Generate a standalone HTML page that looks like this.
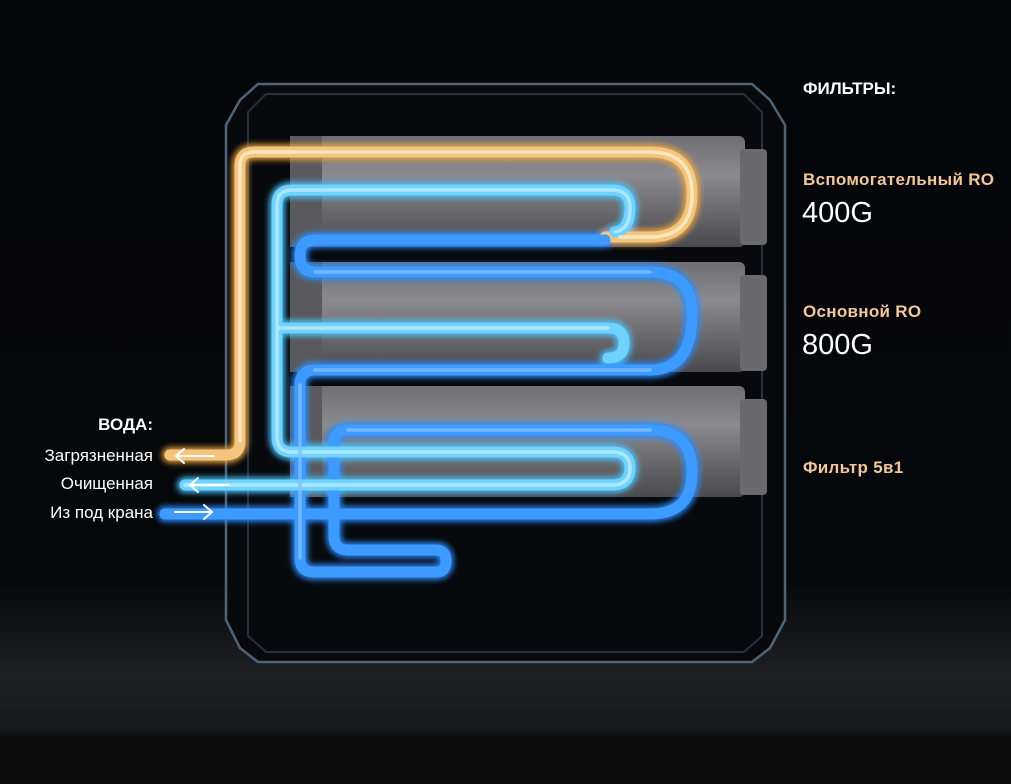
<!DOCTYPE html>
<html><head><meta charset="utf-8"><style>
html,body{margin:0;padding:0;background:#05060a;}
body{width:1011px;height:784px;overflow:hidden;position:relative;font-family:"Liberation Sans",sans-serif;}
svg{position:absolute;left:0;top:0;}
.t{position:absolute;font-family:"Liberation Sans","DejaVu Sans",sans-serif;white-space:nowrap;}
.o{color:#f2c79b;font-weight:bold;font-size:17px;letter-spacing:0.3px;}
.w{color:#fff;font-size:29px;}
.l{color:#fff;font-size:17px;text-align:right;right:858px;}
</style></head><body>
<svg width="1011" height="784" viewBox="0 0 1011 784">
<defs>
<linearGradient id="bg" x1="0" y1="0" x2="0" y2="1">
<stop offset="0" stop-color="#05060a"/><stop offset="0.74" stop-color="#06070b"/>
<stop offset="0.86" stop-color="#1e2024"/><stop offset="0.93" stop-color="#18191c"/>
<stop offset="0.94" stop-color="#0d0d0e"/><stop offset="1" stop-color="#0c0c0c"/></linearGradient>
<linearGradient id="cyl" x1="0" y1="0" x2="0" y2="1">
<stop offset="0" stop-color="#6f6f73"/><stop offset="0.35" stop-color="#8b8b8f"/><stop offset="0.75" stop-color="#626266"/><stop offset="1" stop-color="#4a4a4e"/></linearGradient>
<filter id="gl" x="-10%" y="-10%" width="120%" height="120%"><feGaussianBlur stdDeviation="3"/></filter>
</defs>
<rect width="1011" height="784" fill="url(#bg)"/>
<!-- frame -->
<path d="M258 84 H752 L770 100 L785 125 V620 L770 648 L752 662 H258 L240 648 L226 620 V125 L240 100 Z" fill="#07090d" stroke="#4f6478" stroke-width="2.5"/>
<path d="M266 94 H744 L762 112 V636 L744 652 H266 L248 636 V112 Z" fill="none" stroke="#26323e" stroke-width="2"/>
<!-- cylinders -->
<g>
<rect x="290" y="136" width="455" height="111" rx="6" fill="url(#cyl)"/>
<rect x="290" y="136" width="32" height="111" fill="#5a5a5e"/>
<rect x="740" y="149" width="27" height="96" rx="4" fill="#6a6a6e"/>
<rect x="290" y="262" width="455" height="110" rx="6" fill="url(#cyl)"/>
<rect x="290" y="262" width="32" height="110" fill="#5a5a5e"/>
<rect x="740" y="275" width="27" height="96" rx="4" fill="#6a6a6e"/>
<rect x="290" y="386" width="455" height="111" rx="6" fill="url(#cyl)"/>
<rect x="290" y="386" width="32" height="111" fill="#5a5a5e"/>
<rect x="740" y="399" width="27" height="96" rx="4" fill="#6a6a6e"/>
</g>
<!-- pipes -->
<g fill="none" stroke-linecap="round" stroke-linejoin="round">
<g filter="url(#gl)" stroke-width="16" opacity="0.9">
<path d="M170 455 H226 Q240 455 240 441 V166 Q240 152 254 152 H650 Q692 152 692 194 Q692 237 650 237 H605" stroke="#f0a640"/>
<path d="M605 240 H315 Q300 240 300 256 Q300 272 315 272 H650 Q692 272 692 314 Q692 370 650 370 H315 Q300 370 300 385 V558 Q300 572 314 572 H436 Q446 572 446 561 Q446 550 436 550 H348 Q334 550 334 536 V444 Q334 430 348 430 H650 Q692 430 692 472 Q692 514 650 514 H165" stroke="#2b8cff"/>
<path d="M185 485 H612 Q630 485 630 468 Q630 452 612 452 H292 Q277 452 277 437 V205 Q277 190 292 190 H612 Q630 190 630 208 Q630 230 615 232 M277 328 H608 Q624 328 624 343 Q624 358 608 358" stroke="#49c3ff"/>
</g>
<g stroke-width="11">
<path d="M170 455 H226 Q240 455 240 441 V166 Q240 152 254 152 H650 Q692 152 692 194 Q692 237 650 237 H605" stroke="#f3c57e"/>
<path d="M605 240 H315 Q300 240 300 256 Q300 272 315 272 H650 Q692 272 692 314 Q692 370 650 370 H315 Q300 370 300 385 V558 Q300 572 314 572 H436 Q446 572 446 561 Q446 550 436 550 H348 Q334 550 334 536 V444 Q334 430 348 430 H650 Q692 430 692 472 Q692 514 650 514 H165" stroke="#3d9bff"/>
<path d="M185 485 H612 Q630 485 630 468 Q630 452 612 452 H292 Q277 452 277 437 V205 Q277 190 292 190 H612 Q630 190 630 208 Q630 230 615 232 M277 328 H608 Q624 328 624 343 Q624 358 608 358" stroke="#6fd2ff"/>
</g>
<g stroke-width="3.5" opacity="0.7">
<path d="M240 441 V166 Q240 152 254 152 H650 Q692 152 692 194 Q692 237 650 237 H620" stroke="#fff3d8"/>
<path d="M185 485 H612 Q630 485 630 468 Q630 452 612 452 H292 Q277 452 277 437 V205 Q277 190 292 190 H612 Q630 190 630 208 Q630 230 615 232 M277 328 H608" stroke="#c8f0ff"/>
<path d="M315 272 H650 M315 370 H650 M348 430 H650 M300 385 V558" stroke="#8ac4ff"/>
</g>
</g>
<!-- arrows -->
<g stroke="#fff" stroke-width="2" fill="none" stroke-linecap="round">
<path d="M214 456 H176 M184 449 L176 456 L184 463"/>
<path d="M228 485 H190 M198 478 L190 485 L198 492"/>
<path d="M175 512 H212 M204 505 L212 512 L204 519"/>
</g>
</svg>
<div class="t" style="left:803px;top:79px;color:#fff;font-weight:bold;font-size:17px;">ФИЛЬТРЫ:</div>
<div class="t o" style="left:803px;top:170px;">Вспомогательный RO</div>
<div class="t w" style="left:802px;top:197px;">400G</div>
<div class="t o" style="left:803px;top:302px;">Основной RO</div>
<div class="t w" style="left:802px;top:329px;">800G</div>
<div class="t o" style="left:803px;top:458px;">Фильтр 5в1</div>
<div class="t l" style="top:415px;font-weight:bold;">ВОДА:</div>
<div class="t l" style="top:446px;">Загрязненная</div>
<div class="t l" style="top:474px;">Очищенная</div>
<div class="t l" style="top:503px;">Из под крана</div>
</body></html>
